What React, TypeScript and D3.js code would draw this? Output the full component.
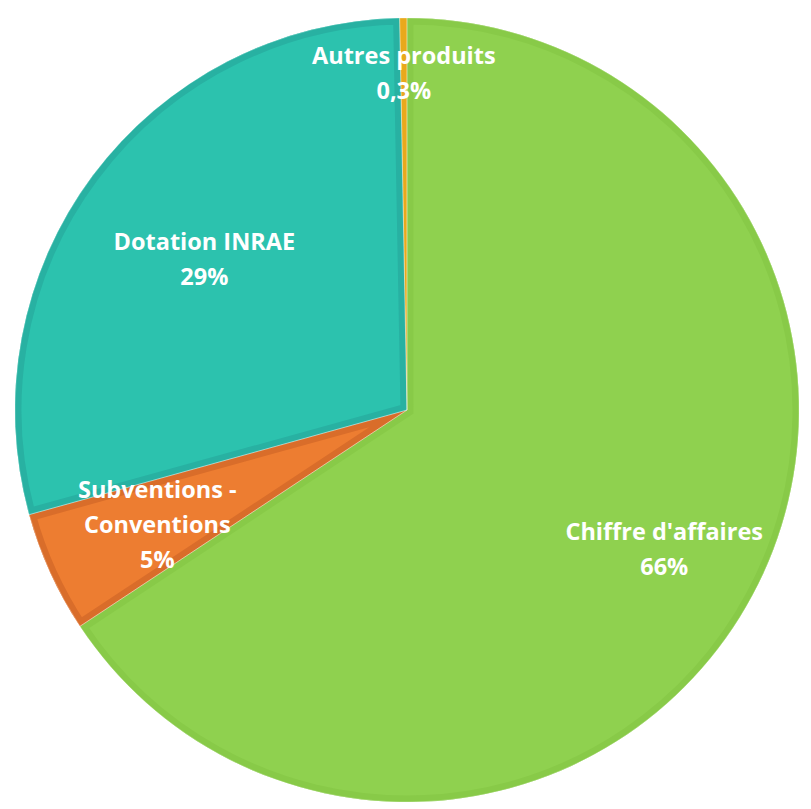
import * as d3 from "d3";
import React from "react";

const categories = ["Chiffre d'affaires", "Subventions - Conventions", "Dotation INRAE", "Autres produits"];
const values = [65.7, 5.0, 29.0, 0.3];
const valueLabels = ["66%", "5%", "29%", "0,3%"];
const labelLines = [["Chiffre d'affaires"], ["Subventions -", "Conventions"], ["Dotation INRAE"], ["Autres produits"]];
const colors = ["#8fd14f", "#ed7d31", "#2cc2ae", "#e9a91c"];
const borders = ["#88ca48", "#d96d2a", "#28b1a2", "#e09a10"];
const labelRadius = [0.745, 0.7, 0.645, 0.86];

const W = 811;
const H = 809;
const cx = 407;
const cy = 410;
const R = 392;

const App: React.FC = () => {
  const pie = d3.pie<number>().sort(null).value((d) => d);
  const arcs = pie(values);
  const arc = d3.arc<d3.PieArcDatum<number>>().innerRadius(0).outerRadius(R);

  return (
    <svg width={W} height={H} style={{ position: "absolute", left: 0, top: 0 }}>
      <defs>
        {arcs.map((a, i) => (
          <clipPath id={"clip" + i} key={i}>
            <path d={arc(a) || ""} />
          </clipPath>
        ))}
      </defs>
      <g transform={`translate(${cx},${cy})`}>
        {arcs.map((a, i) => (
          <g key={categories[i]}>
            <path d={arc(a) || ""} fill={colors[i]} />
            <path
              d={arc(a) || ""}
              fill="none"
              stroke={borders[i]}
              strokeWidth={i === 3 ? 0 : 13}
              clipPath={`url(#clip${i})`}
            />
          </g>
        ))}
        {arcs.map((a, i) => (
          <path key={"sep" + i} d={arc(a) || ""} fill="none" stroke="#ffffff" strokeOpacity={0.35} strokeWidth={0.8} />
        ))}
        {arcs.map((a, i) => {
          const [lx, ly] = d3
            .arc<d3.PieArcDatum<number>>()
            .innerRadius(R * labelRadius[i])
            .outerRadius(R * labelRadius[i])
            .centroid(a);
          const lines = [...labelLines[i], valueLabels[i]];
          const lh = 35;
          const y0 = ly - ((lines.length - 1) * lh) / 2;
          return (
            <text
              key={"lbl" + i}
              x={lx}
              textAnchor="middle"
              fill="#ffffff"
              fontFamily="'Open Sans', sans-serif"
              fontWeight={700}
              fontSize={23.5}
              dominantBaseline="central"
            >
              {lines.map((t, j) => (
                <tspan key={j} x={lx} y={y0 + j * lh}>
                  {t}
                </tspan>
              ))}
            </text>
          );
        })}
      </g>
    </svg>
  );
};

export default App;
